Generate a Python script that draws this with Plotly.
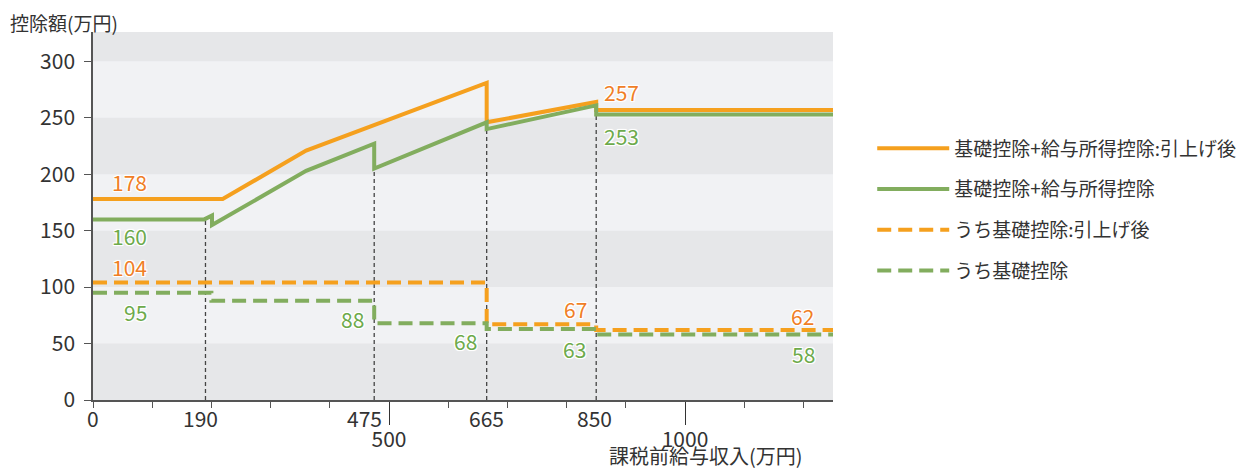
import plotly.graph_objects as go

# ---------------- data ----------------
income_total_new = [0, 219, 360, 665, 665, 850, 850, 1250]
total_new = [178, 178, 221, 281, 246, 264, 257, 257]

income_total_cur = [0, 188, 201, 201, 360, 475, 475, 665, 665, 850, 850, 1250]
total_cur = [160, 160, 163.5, 155, 203, 227, 205, 246, 240, 261, 253, 253]

income_basic_new = [0, 665, 665, 850, 850, 1250]
basic_new = [104, 104, 67, 67, 62, 62]

income_basic_cur = [0, 200, 200, 475, 475, 665, 665, 850, 850, 1250]
basic_cur = [95, 95, 88, 88, 68, 68, 63, 63, 58, 58]

threshold_income = [190, 475, 665, 850]
threshold_top = [160, 205, 240, 253]

x_row1_ticks = [0, 190, 475, 665, 850]
x_major_ticks = [500, 1000]
y_ticks = [0, 50, 100, 150, 200, 250, 300]

series_names = ["基礎控除+給与所得控除:引上げ後", "基礎控除+給与所得控除",
                "うち基礎控除:引上げ後", "うち基礎控除"]

# ---------------- style ----------------
FONT = "Noto Sans CJK JP"
ORANGE = "#F5A01E"
GREEN = "#82AD5E"
ORANGE_TXT = "#F07E26"
GREEN_TXT = "#6DAA4B"
TXT = "#333333"

fig = go.Figure()

# reference vertical dashed lines
rx, ry = [], []
for xv, top in zip(threshold_income, threshold_top):
    rx += [xv, xv, None]
    ry += [0, top, None]
fig.add_trace(go.Scatter(x=rx, y=ry, mode="lines", showlegend=False, hoverinfo="skip",
                         line=dict(color="#444444", width=1.3, dash="4px,3px")))

fig.add_trace(go.Scatter(x=income_basic_new, y=basic_new, mode="lines", name=series_names[2],
                         legendgroup="c", legendrank=3,
                         line=dict(color=ORANGE, width=4, dash="14px,7px")))
fig.add_trace(go.Scatter(x=income_basic_cur, y=basic_cur, mode="lines", name=series_names[3],
                         legendgroup="d", legendrank=4,
                         line=dict(color=GREEN, width=4, dash="14px,7px")))
fig.add_trace(go.Scatter(x=income_total_new, y=total_new, mode="lines", name=series_names[0],
                         legendgroup="a", legendrank=1,
                         line=dict(color=ORANGE, width=4)))
fig.add_trace(go.Scatter(x=income_total_cur, y=total_cur, mode="lines", name=series_names[1],
                         legendgroup="b", legendrank=2,
                         line=dict(color=GREEN, width=4)))

# background bands
shapes = []
for lo in y_ticks[1::2]:
    shapes.append(dict(type="rect", xref="paper", x0=0, x1=1, yref="y", y0=lo, y1=lo + 50,
                       fillcolor="#F1F2F4", line=dict(width=0), layer="below"))

halo = ("-1px -1px 0 #fff, 1px -1px 0 #fff, -1px 1px 0 #fff, 1px 1px 0 #fff, "
        "0 0 3px #fff")

annotations = []

def value_label(x, value, yshift, color):
    annotations.append(dict(x=x, y=value, xref="x", yref="y", text=str(value), showarrow=False,
                            yshift=yshift, xanchor="center", yanchor="middle",
                            font=dict(family=FONT, size=21, color=color, shadow=halo)))

value_label(62, total_new[0], 17, ORANGE_TXT)
value_label(62, total_cur[0], -17, GREEN_TXT)
value_label(62, basic_new[0], 16, ORANGE_TXT)
value_label(71, basic_cur[0], -19, GREEN_TXT)
value_label(439, basic_cur[2], -18, GREEN_TXT)
value_label(630, basic_cur[4], -18, GREEN_TXT)
value_label(815, basic_new[2], 15, ORANGE_TXT)
value_label(814, basic_cur[6], -20, GREEN_TXT)
value_label(1199, basic_new[4], 14, ORANGE_TXT)
value_label(1200, basic_cur[8], -19, GREEN_TXT)
value_label(893, total_new[-1], 18, ORANGE_TXT)
value_label(892, total_cur[-1], -22, GREEN_TXT)

# first row of x labels (threshold incomes)
row1_shift = [0, -5, -10, 0, -2]
for v, xs in zip(x_row1_ticks, row1_shift):
    annotations.append(dict(x=v, y=0, xref="x", yref="y", text=str(v), showarrow=False,
                            xshift=xs, yshift=-18, xanchor="center", yanchor="middle",
                            font=dict(family=FONT, size=21, color=TXT)))

# axis titles
annotations.append(dict(x=-0.115, y=1.027, xref="paper", yref="paper", text="控除額(万円)",
                        showarrow=False, xanchor="left", yanchor="middle",
                        font=dict(family=FONT, size=19, color=TXT)))
annotations.append(dict(x=0.828, y=-0.152, xref="paper", yref="paper", text="課税前給与収入(万円)",
                        showarrow=False, xanchor="center", yanchor="middle",
                        font=dict(family=FONT, size=20, color=TXT)))

fig.update_layout(
    width=1238, height=462,
    margin=dict(l=85, r=413, t=24, b=70, autoexpand=False),
    paper_bgcolor="white",
    plot_bgcolor="#E6E7E9",
    font=dict(family=FONT, color=TXT),
    shapes=shapes,
    annotations=annotations,
    showlegend=True,
    legend=dict(x=1.053, xanchor="left", y=0.735, yanchor="top",
                font=dict(family=FONT, size=19, color=TXT),
                itemwidth=72, tracegroupgap=13, bgcolor="rgba(0,0,0,0)",
                traceorder="grouped"),
    xaxis=dict(range=[0, 1250], showgrid=False, zeroline=False,
               showline=True, linecolor="#555555", linewidth=1.5,
               tickmode="array", tickvals=x_major_ticks,
               ticktext=[str(v) for v in x_major_ticks],
               ticks="outside", ticklen=23, tickcolor="#333333", tickwidth=1,
               ticklabelstandoff=-3,
               tickfont=dict(family=FONT, size=21, color=TXT),
               minor=dict(dtick=100, tick0=0, ticks="outside", ticklen=6,
                          tickcolor="#555555", tickwidth=1, showgrid=False)),
    yaxis=dict(range=[0, 326], showgrid=False, zeroline=False,
               showline=True, linecolor="#555555", linewidth=1.5,
               tickmode="array", tickvals=y_ticks,
               ticks="outside", ticklen=7, tickcolor="#555555", tickwidth=1,
               ticklabelstandoff=5,
               tickfont=dict(family=FONT, size=21, color=TXT)),
)

fig.write_html("out.html")
